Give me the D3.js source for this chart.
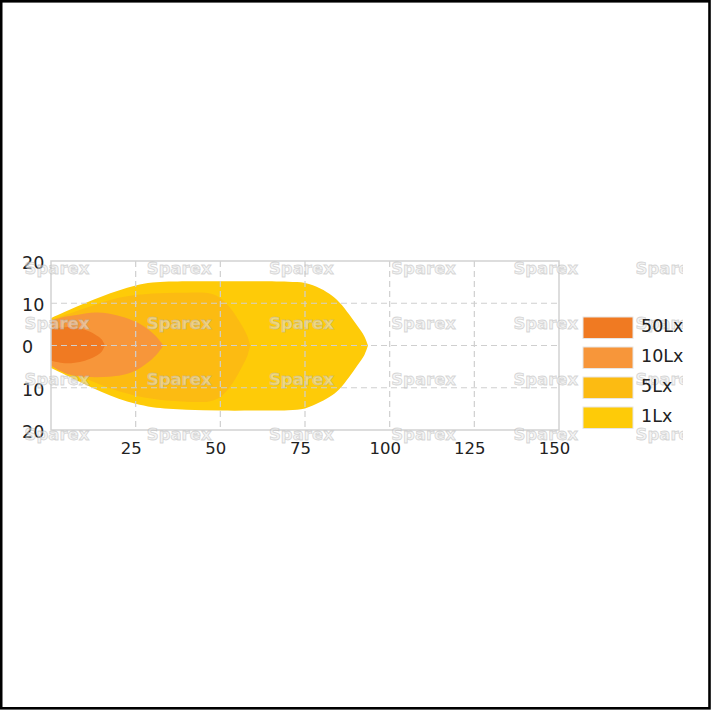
<!DOCTYPE html>
<html>
<head>
<meta charset="utf-8">
<script src="https://cdnjs.cloudflare.com/ajax/libs/d3/7.8.5/d3.min.js"></script>
<style>
  html, body { margin: 0; padding: 0; background: #fff; }
  svg { display: block; }
  text { font-family: "DejaVu Sans", Verdana, sans-serif; }
</style>
</head>
<body>
<svg id="chart" width="711" height="710"></svg>
<script>
// ---- data ----
const levels = ["50Lx", "10Lx", "5Lx", "1Lx"];
const levelColors = ["#F07A22", "#F7963A", "#FCBB12", "#FECB08"];

const xTicks = [25, 50, 75, 100, 125, 150];
const yTicks = [20, 10, 0, -10, -20];

// distance (m) and lateral extent (m) of each isolux contour
const lux1X      = [0, 5, 10, 15, 20, 25, 30, 40, 50, 60, 70, 75, 79.5, 83, 85.4, 88, 90.5, 92.5, 93.6];
const lux1Top    = [6.5, 8.3, 10, 11.6, 13, 14.2, 14.9, 15.2, 15.2, 15.2, 15.1, 14.8, 13.5, 11.8, 10, 7.4, 4.6, 2.2, 0];
const lux1Bottom = [-5.3, -7.2, -9.2, -11, -12.6, -13.8, -14.6, -15.2, -15.4, -15.4, -15.3, -14.9, -13.4, -11.8, -10.1, -7.5, -4.7, -2.3, 0];

const lux5X      = [0, 10, 20, 30, 40, 47, 50, 53, 56, 58, 58.8];
const lux5Top    = [6.0, 8.8, 11.3, 12.3, 12.5, 12.3, 11.2, 8.8, 5.2, 2.2, 0];
const lux5Bottom = [-4.8, -7.8, -10.8, -12.6, -13.3, -13.2, -12.2, -9.6, -5.6, -2.4, 0];

const lux10X      = [0, 4, 8, 13, 17, 21, 25, 28, 31, 33.2];
const lux10Top    = [5.9, 6.8, 7.3, 7.8, 7.6, 6.8, 5.6, 4.2, 2.2, 0];
const lux10Bottom = [-4.8, -6.5, -7.3, -7.5, -7.4, -7, -5.9, -4.4, -2.3, 0];

const lux50X      = [0, 4, 7, 10, 13, 15, 15.9];
const lux50Top    = [3.9, 4.3, 4.3, 3.7, 2.6, 1.4, 0];
const lux50Bottom = [-3.6, -4.2, -4.1, -3.6, -2.6, -1.4, 0];

const watermarkText = "Sparex";

// ---- layout ----
const svg = d3.select("#chart");
const plot = { left: 51, right: 559, top: 261, bottom: 430 };

const x = d3.scaleLinear().domain([0, 150]).range([plot.left, plot.right]);
const y = d3.scaleLinear().domain([-20, 20]).range([plot.bottom, plot.top]);

const defs = svg.append("defs");
defs.append("clipPath").attr("id", "plotClip")
  .append("rect")
  .attr("x", plot.left).attr("y", plot.top)
  .attr("width", plot.right - plot.left).attr("height", plot.bottom - plot.top);
defs.append("clipPath").attr("id", "wmClip")
  .append("rect").attr("x", 0).attr("y", 0).attr("width", 683).attr("height", 710);

// ---- contours ----
const series = [
  { name: "1Lx",  xs: lux1X,  top: lux1Top,  bottom: lux1Bottom,  color: levelColors[3] },
  { name: "5Lx",  xs: lux5X,  top: lux5Top,  bottom: lux5Bottom,  color: levelColors[2] },
  { name: "10Lx", xs: lux10X, top: lux10Top, bottom: lux10Bottom, color: levelColors[1] },
  { name: "50Lx", xs: lux50X, top: lux50Top, bottom: lux50Bottom, color: levelColors[0] }
];

const area = d3.area()
  .x(d => x(d.x))
  .y0(d => y(d.b))
  .y1(d => y(d.t))
  .curve(d3.curveCatmullRom.alpha(0.5));

const shapes = svg.append("g").attr("clip-path", "url(#plotClip)");
series.forEach(s => {
  const pts = s.xs.map((v, i) => ({ x: v, t: s.top[i], b: s.bottom[i] }));
  shapes.append("path").attr("d", area(pts)).attr("fill", s.color);
});

// ---- grid ----
const grid = svg.append("g");
grid.selectAll("line.vx").data(xTicks.filter(v => v < 150)).enter().append("line")
  .attr("x1", d => x(d)).attr("x2", d => x(d))
  .attr("y1", plot.top).attr("y2", plot.bottom)
  .attr("stroke", "#cfcfcf").attr("stroke-width", 1.2).attr("stroke-dasharray", "6,4");
grid.selectAll("line.hy").data(yTicks.filter(v => Math.abs(v) < 20)).enter().append("line")
  .attr("x1", plot.left).attr("x2", plot.right)
  .attr("y1", d => y(d)).attr("y2", d => y(d))
  .attr("stroke", "#cfcfcf").attr("stroke-width", 1.2).attr("stroke-dasharray", "6,4");

svg.append("rect")
  .attr("x", plot.left).attr("y", plot.top)
  .attr("width", plot.right - plot.left).attr("height", plot.bottom - plot.top)
  .attr("fill", "none").attr("stroke", "#d2d2d2").attr("stroke-width", 1.5);

// ---- axes ----
const xAxis = svg.append("g")
  .attr("transform", `translate(-5,${plot.bottom})`)
  .call(d3.axisBottom(x).tickValues(xTicks).tickSize(0).tickPadding(12).tickFormat(d3.format("d")));
xAxis.select(".domain").remove();
xAxis.selectAll("text").attr("font-size", 16.5).attr("fill", "#222")
  .style("font-family", '"DejaVu Sans", Verdana, sans-serif');

const yAxis = svg.append("g")
  .attr("transform", `translate(${plot.left},0)`)
  .call(d3.axisLeft(y).tickValues(yTicks).tickSize(0).tickFormat(d => Math.abs(d)));
yAxis.select(".domain").remove();
yAxis.selectAll("text")
  .attr("x", -29).attr("dy", "0.42em")
  .attr("text-anchor", "start")
  .attr("font-size", 17.5).attr("fill", "#222")
  .style("font-family", '"DejaVu Sans", Verdana, sans-serif');

// ---- watermark ----
const wmCols = d3.range(6), wmRows = d3.range(4);
const wm = svg.append("g").attr("clip-path", "url(#wmClip)");
wmRows.forEach(r => wmCols.forEach(c => {
  wm.append("text")
    .attr("x", 57 + c * 122.2).attr("y", 274 + r * 55.3)
    .attr("text-anchor", "middle")
    .attr("font-size", 16.5).attr("font-weight", "bold")
    .attr("fill", "#e8e8e8").attr("fill-opacity", 0.5)
    .attr("stroke", "#b0b0b0").attr("stroke-opacity", 0.5).attr("stroke-width", 0.8)
    .text(watermarkText);
}));

// ---- legend ----
const legend = svg.append("g");
levels.forEach((name, i) => {
  const yy = 317 + i * 30;
  legend.append("rect")
    .attr("x", 583).attr("y", yy).attr("width", 50).attr("height", 21.5)
    .attr("fill", levelColors[i]).attr("stroke", "#e6e6e6").attr("stroke-width", 1);
  legend.append("text")
    .attr("x", 641).attr("y", yy + 15)
    .attr("font-size", 17.5).attr("fill", "#222")
    .text(name);
});

// ---- frame ----
svg.append("rect")
  .attr("x", 1.2).attr("y", 1.3).attr("width", 708.3).attr("height", 707)
  .attr("fill", "none").attr("stroke", "#000").attr("stroke-width", 2.6);
</script>
</body>
</html>
